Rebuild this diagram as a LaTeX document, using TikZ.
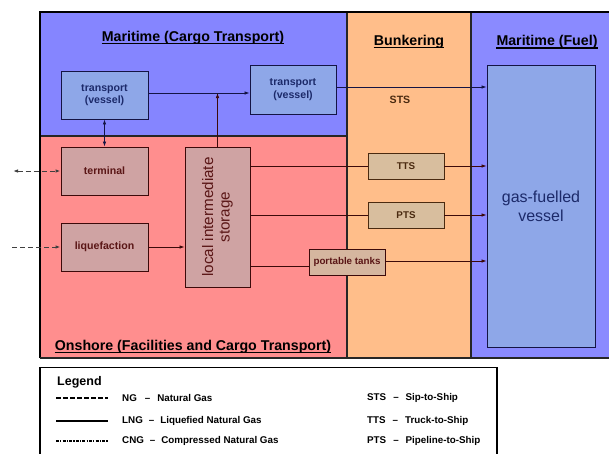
\documentclass[tikz,border=0pt]{standalone}
\usepackage{fontspec}
\setmainfont{Liberation Sans}
\usetikzlibrary{arrows.meta}
\definecolor{seablue}{HTML}{8585FF}
\definecolor{fuelblue}{HTML}{8A8AFF}
\definecolor{shorered}{HTML}{FF8E8E}
\definecolor{bunkorange}{HTML}{FFBE8A}
\definecolor{seabox}{HTML}{8EA7E8}
\definecolor{shorebox}{HTML}{CFA3A3}
\definecolor{bunkbox}{HTML}{D8BE9E}
\definecolor{navytext}{HTML}{1C2A6A}
\definecolor{redtext}{HTML}{5A1616}
\definecolor{browntext}{HTML}{4A2A10}
\definecolor{seaink}{HTML}{141444}
\definecolor{shoreink}{HTML}{3C0A0A}
\tikzset{
  region/.style={draw=black!85, line width=1.1pt},
  title/.style={font=\bfseries\fontsize{14.2}{16}\selectfont, inner sep=0pt, text=black},
  seanode/.style={draw=seaink, line width=0.9pt, fill=seabox, text=navytext,
    font=\bfseries\fontsize{10.6}{12.5}\selectfont, align=center, inner sep=0pt},
  shorenode/.style={draw=shoreink, line width=0.9pt, fill=shorebox, text=redtext,
    font=\bfseries\fontsize{10.6}{12.5}\selectfont, align=center, inner sep=0pt},
  bunknode/.style={draw=browntext, line width=0.9pt, fill=bunkbox, text=browntext,
    font=\bfseries\fontsize{9.8}{11}\selectfont, align=center, inner sep=0pt},
  flow/.style={line width=0.75pt, -{Latex[length=5pt,width=3.5pt]}},
  flowboth/.style={line width=0.75pt, {Latex[length=5pt,width=3.5pt]}-{Latex[length=5pt,width=3.5pt]}},
  gasline/.style={line width=1pt, dash pattern=on 5pt off 3pt},
  legtext/.style={font=\bfseries\fontsize{9.8}{11}\selectfont, inner sep=0pt, anchor=west},
}
\begin{document}
\begin{tikzpicture}[x=1pt, y=-1pt]
\useasboundingbox (0,0) rectangle (609,453);

% coloured zones
\fill[seablue] (40,12) rectangle (347,136);
\fill[shorered] (40,136) rectangle (347,358);
\fill[bunkorange] (347,12) rectangle (471,358);
\fill[fuelblue] (471,12) rectangle (609,358);
\draw[region] (40,136) -- (347,136);
\draw[region] (347,12) -- (347,358);
\draw[region] (471,12) -- (471,358);
\draw[black, line width=1.6pt] (40,358) -- (40,12) -- (609,12);
\draw[region] (40,358) -- (609,358);

% zone titles
\node[title] (tcargo) at (193,38) {Maritime (Cargo Transport)};
\node[title] (tbunk) at (409,42) {Bunkering};
\node[title] (tfuel) at (547,42) {Maritime (Fuel)};
\node[title] (tshore) at (193,347) {Onshore (Facilities and Cargo Transport)};
\foreach \t in {tcargo,tbunk,tfuel,tshore}
  \draw[line width=1.3pt] ([yshift=-2.2pt]\t.base west) -- ([yshift=-2.2pt]\t.base east);

% facilities and vessels
\node[seanode, minimum width=87pt, minimum height=48pt] (tr1) at (104.5,95) {transport\\(vessel)};
\node[seanode, minimum width=86pt, minimum height=49pt] (tr2) at (293,89.5) {transport\\(vessel)};
\node[shorenode, minimum width=87pt, minimum height=48pt] (term) at (104.5,171) {terminal};
\node[shorenode, minimum width=87pt, minimum height=48pt] (liq) at (104.5,247) {liquefaction};
\node[shorenode, minimum width=65pt, minimum height=140pt] (stor) at (217.5,217) {};
\node[rotate=90, align=center, text=redtext, font=\fontsize{15.2}{16.5}\selectfont] (storlabel) at (stor.center) {local intermediate\\storage};
\node[bunknode, minimum width=76pt, minimum height=26pt] (tts) at (406,166) {TTS};
\node[bunknode, minimum width=76pt, minimum height=26pt] (pts) at (406,215) {PTS};
\node[draw=shoreink, line width=0.9pt, fill=bunkbox!70!shorebox, text=redtext,
  font=\bfseries\fontsize{9.8}{11}\selectfont, inner sep=0pt,
  minimum width=76pt, minimum height=26pt] (port) at (347,262) {portable tanks};
\node[draw=seaink, line width=0.9pt, fill=seabox, minimum width=108pt,
  minimum height=282pt, inner sep=0pt] (vessel) at (541,206) {};
\node[text=navytext, align=center, font=\fontsize{16}{19}\selectfont] (vlabel) at (541,206) {gas-fuelled\\vessel};
\node[text=browntext, font=\bfseries\fontsize{10.6}{12}\selectfont] (sts) at (400,100) {STS};

% junction points and outside sources
\coordinate (j) at (217.5,93);
\coordinate (ext1) at (13,171);
\coordinate (ext2) at (12,247);
\coordinate (sy) at (0,87);
\coordinate (py1) at (0,266);
\coordinate (py2) at (0,261);

% cargo transport flows
\draw[seaink, line width=0.75pt] (tr1.east |- j) -- (j);
\draw[seaink, flow] (j) -- (tr2.west |- j);
\draw[shoreink, flow] (stor.north) -- (j);
\draw[seaink, flowboth] (tr1.south) -- (term.north);
\draw[seaink, flow] (tr2.east |- sy) -- (vessel.west |- sy);

% onshore flows
\draw[black!75, flowboth, gasline] (ext1) -- (term.west);
\draw[black!75, flow, gasline] (ext2) -- (liq.west);
\draw[shoreink, flow] (liq.east) -- (liq.east -| stor.west);
\draw[shoreink, line width=0.75pt] (stor.east |- tts) -- (tts.west);
\draw[shoreink, flow] (tts.east) -- (tts -| vessel.west);
\draw[shoreink, line width=0.75pt] (stor.east |- pts) -- (pts.west);
\draw[shoreink, flow] (pts.east) -- (pts -| vessel.west);
\draw[shoreink, line width=0.75pt] (stor.east |- py1) -- (port.west |- py1);
\draw[shoreink, flow] (port.east |- py2) -- (vessel.west |- py2);

% legend
\draw[black, line width=1.6pt, fill=white] (40,367.5) rectangle (497,470);
\node[font=\bfseries\fontsize{12.5}{14}\selectfont, inner sep=0pt, anchor=west] (leg) at (57,382) {Legend};
\coordinate (la1) at (56,398);  \coordinate (lb1) at (108,398);
\coordinate (la2) at (56,421);  \coordinate (lb2) at (108,421);
\coordinate (la3) at (56,441);  \coordinate (lb3) at (108,441);
\draw[line width=1.1pt, dash pattern=on 4.5pt off 2.5pt] (la1) -- (lb1);
\draw[line width=1.1pt] (la2) -- (lb2);
\draw[line width=1.1pt, dash pattern=on 3pt off 1.2pt on 1.2pt off 1.2pt] (la3) -- (lb3);
\node[legtext] (ng) at (122,398) {NG\hspace{8pt}--\hspace{7pt}Natural Gas};
\node[legtext] (lng) at (122,421) {LNG\hspace{6pt}--\hspace{6pt}Liquefied Natural Gas};
\node[legtext] (cng) at (122,441) {CNG\hspace{6pt}--\hspace{6pt}Compressed Natural Gas};
\node[legtext] (lsts) at (367,398) {STS\hspace{7pt}--\hspace{7pt}Sip-to-Ship};
\node[legtext] (ltts) at (367,421) {TTS\hspace{7pt}--\hspace{7pt}Truck-to-Ship};
\node[legtext] (lpts) at (367,441) {PTS\hspace{7pt}--\hspace{7pt}Pipeline-to-Ship};
\end{tikzpicture}
\end{document}
